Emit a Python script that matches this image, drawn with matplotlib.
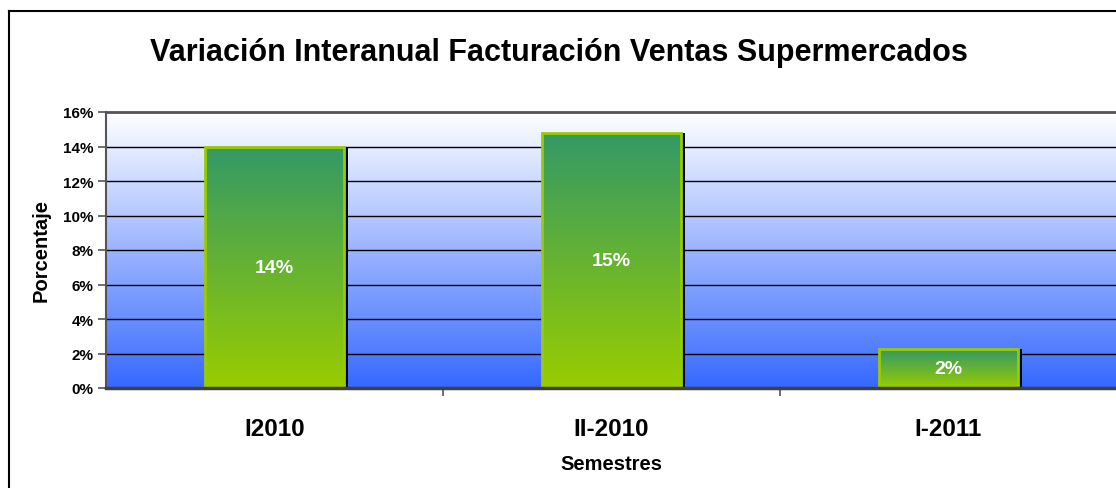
import numpy as np
import matplotlib
matplotlib.use("Agg")
import matplotlib.pyplot as plt
from matplotlib.colors import LinearSegmentedColormap
from matplotlib.lines import Line2D
import matplotlib.patheffects as pe

categories = ["I2010", "II-2010", "I-2011"]
values = [14.0, 14.8, 2.25]
bar_labels = ["14%", "15%", "2%"]
yticks = [0, 2, 4, 6, 8, 10, 12, 14, 16]

title = "Variación Interanual Facturación Ventas Supermercados"
xlabel = "Semestres"
ylabel = "Porcentaje"

plt.rcParams['font.family'] = ['Liberation Sans', 'DejaVu Sans']
plt.rcParams['font.weight'] = 'bold'

W, H = 1116, 489
fig = plt.figure(figsize=(W / 100, H / 100), dpi=100)
fig.patch.set_facecolor('white')

x0, x1, y0, y1 = 106, 1116, 389, 113
ax = fig.add_axes([x0 / W, 1 - y0 / H, (x1 - x0) / W, (y0 - y1) / H])

cat_w = 337.0
ax.set_xlim(-0.5, -0.5 + (x1 - x0) / cat_w)
ax.set_ylim(0, 16)

# background gradient
bg = LinearSegmentedColormap.from_list("bg", ["#3366FF", "#FFFFFF"])
grad = np.linspace(0, 1, 256).reshape(-1, 1)
ax.imshow(grad, cmap=bg, aspect='auto', extent=[0, 1, 0, 1],
          transform=ax.transAxes, origin='lower', zorder=0, vmin=-0.02, vmax=1.0)

# gridlines
for t in yticks[1:-1]:
    ax.axhline(t, color='black', lw=1.0, zorder=1)

# bars
bar_cmap = LinearSegmentedColormap.from_list("bar", ["#99CC00", "#339966"])
xs = np.arange(len(categories))
bw = 0.41
bars = ax.bar(xs, values, width=bw, facecolor='none', edgecolor='#99CC00',
              linewidth=2.0, zorder=4)
for b, v, lab in zip(bars, values, bar_labels):
    bx = b.get_x()
    im = ax.imshow(grad, cmap=bar_cmap, aspect='auto',
                   extent=[bx, bx + bw, 0, v], origin='lower', zorder=3)
    im.set_clip_path(b)
    # shadow on right side
    ax.bar(bx + bw / 2, v, width=bw, facecolor='black', edgecolor='black',
           linewidth=0, zorder=2,
           path_effects=[pe.withSimplePatchShadow(offset=(3, 0), shadow_rgbFace='black', alpha=1.0)])
    ax.text(bx + bw / 2, v / 2, lab, ha='center', va='center', color='white',
            fontsize=14, fontweight='bold', zorder=6)

ax.set_xlim(-0.5, -0.5 + (x1 - x0) / cat_w)
ax.set_ylim(0, 16)

# spines
for s in ['left', 'top', 'bottom']:
    ax.spines[s].set_color('#555555')
ax.spines['left'].set_linewidth(1.5)
ax.spines['top'].set_linewidth(2.0)
ax.spines['bottom'].set_linewidth(2.5)
ax.spines['bottom'].set_color('#404040')
ax.spines['right'].set_visible(False)
for s in ax.spines.values():
    s.set_zorder(7)

ax.set_yticks(yticks)
ax.set_yticklabels([f"{t}%" for t in yticks], fontsize=11, fontweight='bold')
ax.set_xticks(xs)
ax.set_xticklabels(categories, fontsize=17.5, fontweight='bold')
ax.set_xticks([0.5, 1.5], minor=True)
ax.tick_params(axis='x', which='major', length=0, pad=21)
ax.tick_params(axis='x', which='minor', length=6, color='#555555', width=1.2)
ax.tick_params(axis='y', length=6, color='#555555', width=1.2, pad=3)

fig.text(41 / W, 1 - 251 / H, ylabel, rotation=90, ha='center', va='center',
         fontsize=14.5, fontweight='bold')
fig.text(611 / W, 1 - 465 / H, xlabel, ha='center', va='center',
         fontsize=14.5, fontweight='bold')
fig.text(559 / W, 1 - 53 / H, title, ha='center', va='center',
         fontsize=22, fontweight='bold')

# outer chart frame (cut by image border)
fig.add_artist(Line2D([8.5 / W, 8.5 / W], [0, 1 - 12 / H], color='black', lw=1.5,
                      transform=fig.transFigure))
fig.add_artist(Line2D([8.5 / W, 1], [1 - 12 / H, 1 - 12 / H], color='black', lw=1.5,
                      transform=fig.transFigure))

fig.savefig("out.png", dpi=100)
